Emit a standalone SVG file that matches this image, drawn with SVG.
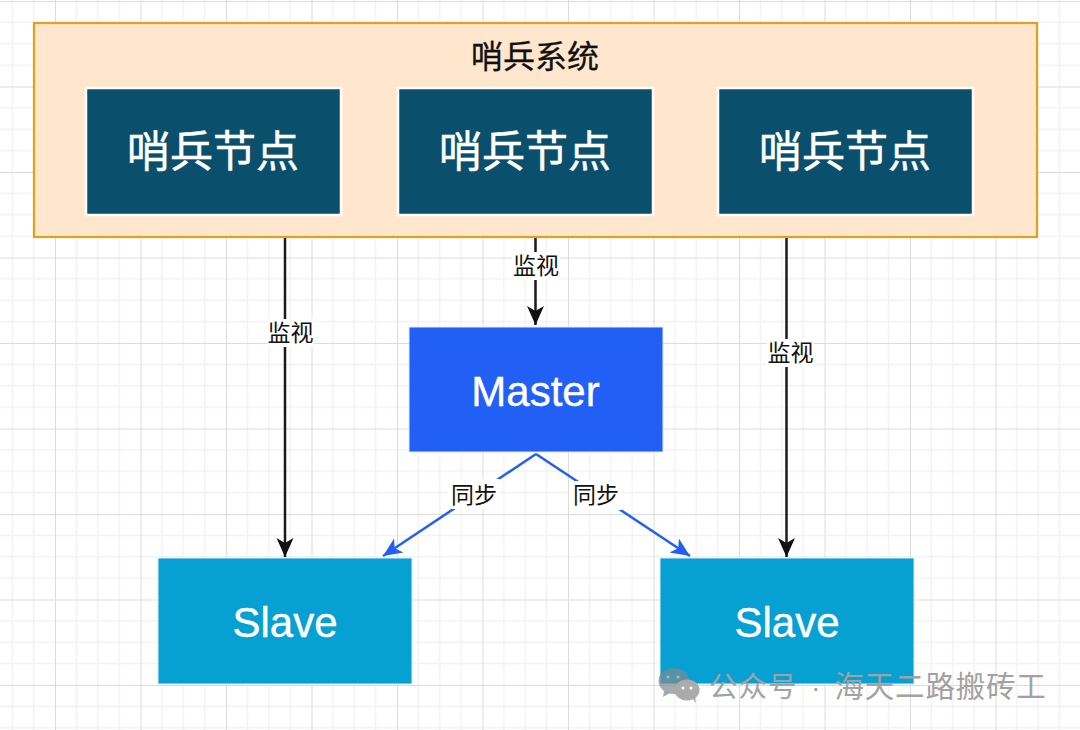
<svg xmlns="http://www.w3.org/2000/svg" width="1080" height="730" viewBox="0 0 1080 730">
<defs>
<pattern id="grid" patternUnits="userSpaceOnUse" x="55" y="1" width="85.5" height="85.5">
<path d="M21.375 0V85.5M42.75 0V85.5M64.125 0V85.5M0 21.375H85.5M0 42.75H85.5M0 64.125H85.5" fill="none" stroke="#f2f2f2" stroke-width="1.5"/>
<path d="M0 0V85.5M0 0H85.5" fill="none" stroke="#dcdcdc" stroke-width="2"/>
</pattern>
<marker id="ab" markerUnits="userSpaceOnUse" markerWidth="22" markerHeight="22" refX="19" refY="10" orient="auto"><path d="M0 1.500L19 10L0 18.500L5 10Z" fill="#111"/></marker>
<marker id="ao" markerUnits="userSpaceOnUse" markerWidth="22" markerHeight="22" refX="19" refY="10" orient="auto"><path d="M0 1.500L19 10L0 18.500L5 10Z" fill="#2260f5"/></marker>
</defs>
<style>
text{font-family:"Noto Sans CJK SC","Liberation Sans",sans-serif;text-anchor:middle}
.n{fill:#0a4f6b;stroke:#fff;stroke-width:2.500}
.big{font-size:43px;fill:#fff;stroke:#fff;stroke-width:0.500}
.m{fill:#2260f5;stroke:#dfe9fb;stroke-width:1}
.s{fill:#06a0d3;stroke:#d9eef7;stroke-width:1}
.en{font-family:"Liberation Sans",Arial,sans-serif;font-size:42px;fill:#fff;stroke:#fff;stroke-width:0.400}
.l{font-size:23px;fill:#111}
.lb{fill:#fff}
.c{fill:none;stroke:#1a1a1a;stroke-width:2.500;marker-end:url(#ab)}
.b{fill:none;stroke:#2260f5;stroke-width:2.500;marker-end:url(#ao)}
</style>
<rect width="1080" height="730" fill="#fff"/>
<rect width="1080" height="730" fill="url(#grid)"/>
<g id="connectors">
<path class="c" d="M285 237V557"/>
<path class="c" d="M535.500 237V325"/>
<path class="c" d="M786.500 237V557"/>
<path class="b" d="M536 454L383 556"/>
<path class="b" d="M536 454L690 556"/>
<rect class="lb" x="267" y="319" width="47" height="28"/>
<text class="l" x="290.500" y="341">监视</text>
<rect class="lb" x="512" y="252" width="48" height="28"/>
<text class="l" x="536" y="274">监视</text>
<rect class="lb" x="767" y="339" width="47" height="28"/>
<text class="l" x="790.500" y="361">监视</text>
<rect class="lb" x="448" y="479" width="52" height="30"/>
<text class="l" x="474" y="503">同步</text>
<rect class="lb" x="570" y="481" width="52" height="29"/>
<text class="l" x="596" y="503">同步</text>
</g>
<g id="sentinel-system">
<rect x="34" y="23" width="1003" height="214" fill="#ffe6cc" stroke="#e0a21e" stroke-width="2.200"/>
<text x="535" y="67.500" font-size="32" stroke="#111" stroke-width="0.300" fill="#111">哨兵系统</text>
</g>
<g id="sentinel-1"><rect class="n" x="86" y="88" width="255" height="127"/><text class="big" x="213" y="167">哨兵节点</text></g>
<g id="sentinel-2"><rect class="n" x="398" y="88" width="255" height="127"/><text class="big" x="525" y="167">哨兵节点</text></g>
<g id="sentinel-3"><rect class="n" x="718" y="88" width="255" height="127"/><text class="big" x="845" y="167">哨兵节点</text></g>
<g id="master"><rect class="m" x="409" y="327" width="254" height="125"/><text class="en" x="535.500" y="406">Master</text></g>
<g id="slave-1"><rect class="s" x="158" y="558" width="254" height="126"/><text class="en" x="285" y="637">Slave</text></g>
<g id="slave-2"><rect class="s" x="660" y="558" width="254" height="126"/><text class="en" x="787" y="637">Slave</text></g>
<g id="watermark">
<ellipse cx="674" cy="681" rx="15.500" ry="13" fill="#7f8a90" opacity="0.7"/>
<path d="M664 691l-1 6 7-4z" fill="#7f8a90" opacity="0.7"/>
<ellipse cx="687" cy="690" rx="12.500" ry="10.500" fill="#ababab"/>
<path d="M692 698l4 5-1-7z" fill="#ababab"/>
<circle cx="668" cy="677" r="1.600" fill="#fff" opacity=".4"/><circle cx="678" cy="677" r="1.600" fill="#fff" opacity=".4"/>
<circle cx="683" cy="688" r="1.500" fill="#fff"/><circle cx="691" cy="688" r="1.500" fill="#fff"/>
<text y="697" font-size="28.500" fill="#a2a2a2" style="text-anchor:start"><tspan x="709" letter-spacing="1">公众号 </tspan><tspan x="811" style="font-family:'Liberation Sans',sans-serif">· </tspan><tspan x="834.500" font-size="29.500" letter-spacing="0.800">海天二路搬砖工</tspan></text>
</g>
</svg>
